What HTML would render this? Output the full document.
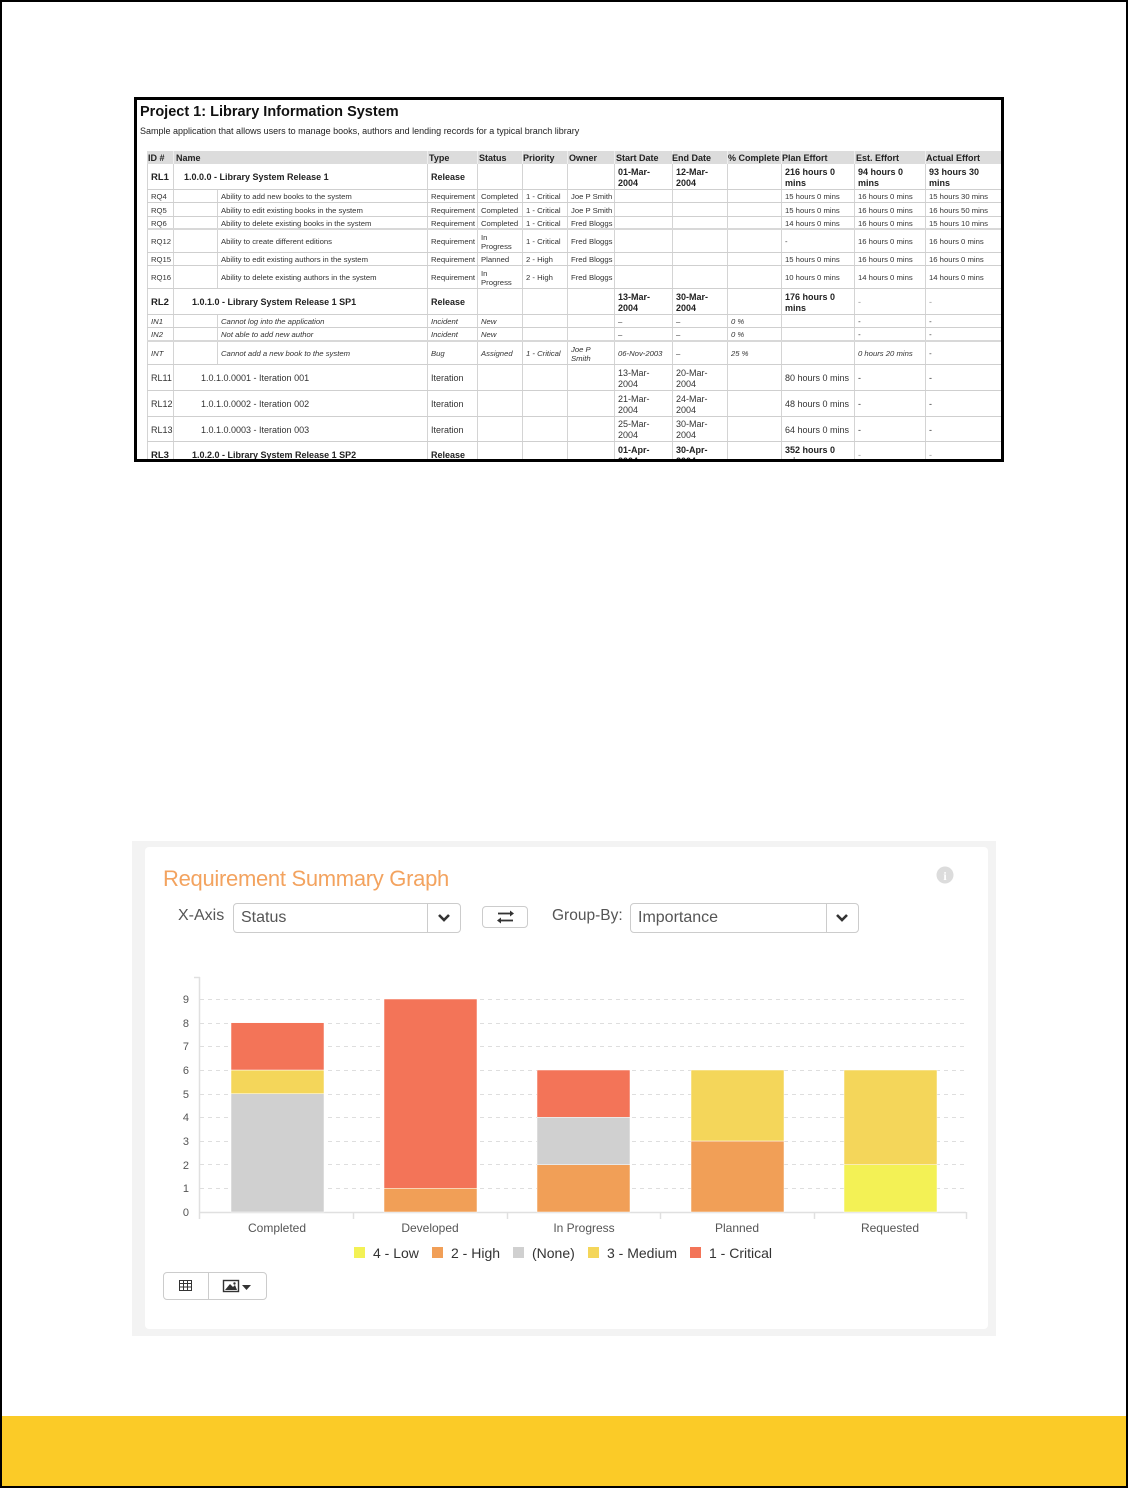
<!DOCTYPE html>
<html><head><meta charset="utf-8">
<style>
*{margin:0;padding:0}
body{width:1128px;height:1488px;background:#fff;font-family:"Liberation Sans",Arial,sans-serif;}
#pg{position:relative;width:1128px;height:1488px;overflow:hidden;background:#fff;}
.abs{position:absolute}
#frame{position:absolute;left:0;top:0;width:1128px;height:1488px;border:2px solid #000;box-sizing:border-box;z-index:50;pointer-events:none}
#yel{position:absolute;left:0;top:1416px;width:1128px;height:72px;background:#fbcb27}
#boxb{position:absolute;left:134px;top:97px;width:870px;height:365px;border:3px solid #000;box-sizing:border-box;z-index:10}
#clip{position:absolute;left:137px;top:100px;width:864px;height:359px;overflow:hidden;background:#fff}
#inner{position:absolute;left:-137px;top:-100px;width:1128px;height:600px}
.r{position:absolute;left:147px;width:860px;border-bottom:1px solid #cfcfcf;box-sizing:border-box;color:#333}
.c{position:absolute;top:0;bottom:0;display:flex;align-items:center;padding-left:3px;padding-top:2px;border-left:1px solid #d4d4d4;box-sizing:border-box;line-height:1.2;white-space:nowrap}
.i{left:0;width:26px}.n0{left:26px;width:44px}.n{left:70px;width:210px}.nf{left:26px;width:254px}
.t{left:280px;width:50px}.s{left:330px;width:45px}.p{left:375px;width:45px}.o{left:420px;width:47px}
.sd{left:467px;width:58px}.ed{left:525px;width:55px}.pc{left:580px;width:54px}.pe{left:634px;width:73px}
.ee{left:707px;width:71px}.ae{left:778px;width:82px}
.b{font-size:9px;font-weight:bold;color:#222}
.sm{font-size:7.7px}
.it{font-size:7.7px;font-style:italic}
.m{font-size:9px;color:#333}
.g{color:#999;font-weight:normal}
.hd{position:absolute;top:151px;height:13px;left:147px;width:860px;background:#dcdcdc}
.hd span{position:absolute;top:1px;line-height:13px;font-size:9px;font-weight:bold;color:#222;white-space:nowrap}
.hd i{position:absolute;top:0;width:1px;height:13px;background:#eee}
</style></head><body><div id="pg">

<div id="clip"><div id="inner">
<div class="abs" style="left:140px;top:104px;font-size:14.5px;font-weight:bold;color:#111;white-space:nowrap">Project 1: Library Information System</div>
<div class="abs" style="left:140px;top:126px;font-size:9px;color:#222;white-space:nowrap">Sample application that allows users to manage books, authors and lending records for a typical branch library</div>

<div class="hd">
<i style="left:26px"></i><i style="left:280px"></i><i style="left:330px"></i><i style="left:375px"></i><i style="left:420px"></i><i style="left:467px"></i><i style="left:525px"></i><i style="left:580px"></i><i style="left:634px"></i><i style="left:707px"></i><i style="left:778px"></i>
<span style="left:1px">ID #</span><span style="left:29px">Name</span><span style="left:282px">Type</span><span style="left:332px">Status</span><span style="left:376px">Priority</span><span style="left:422px">Owner</span><span style="left:469px">Start Date</span><span style="left:525px">End Date</span><span style="left:581px">% Complete</span><span style="left:635px">Plan Effort</span><span style="left:709px">Est. Effort</span><span style="left:779px">Actual Effort</span>
</div>

<!-- RL1 -->
<div class="r b" style="top:164px;height:26px">
<div class="c i" style="font-size:9.5px">RL1</div><div class="c nf" style="padding-left:10px">1.0.0.0 - Library System Release 1</div>
<div class="c t">Release</div><div class="c s"></div><div class="c p"></div><div class="c o"></div>
<div class="c sd">01-Mar-<br>2004</div><div class="c ed">12-Mar-<br>2004</div><div class="c pc"></div>
<div class="c pe">216 hours 0<br>mins</div><div class="c ee">94 hours 0<br>mins</div><div class="c ae">93 hours 30<br>mins</div>
</div>
<!-- RQ4 -->
<div class="r sm" style="top:190px;height:13px">
<div class="c i">RQ4</div><div class="c n0"></div><div class="c n">Ability to add new books to the system</div>
<div class="c t">Requirement</div><div class="c s">Completed</div><div class="c p">1 - Critical</div><div class="c o">Joe P Smith</div>
<div class="c sd"></div><div class="c ed"></div><div class="c pc"></div>
<div class="c pe">15 hours 0 mins</div><div class="c ee">16 hours 0 mins</div><div class="c ae">15 hours 30 mins</div>
</div>
<div class="r sm" style="top:203px;height:14px">
<div class="c i">RQ5</div><div class="c n0"></div><div class="c n">Ability to edit existing books in the system</div>
<div class="c t">Requirement</div><div class="c s">Completed</div><div class="c p">1 - Critical</div><div class="c o">Joe P Smith</div>
<div class="c sd"></div><div class="c ed"></div><div class="c pc"></div>
<div class="c pe">15 hours 0 mins</div><div class="c ee">16 hours 0 mins</div><div class="c ae">16 hours 50 mins</div>
</div>
<div class="r sm" style="top:217px;height:13px;border-bottom:2px solid #d8d8d8">
<div class="c i">RQ6</div><div class="c n0"></div><div class="c n">Ability to delete existing books in the system</div>
<div class="c t">Requirement</div><div class="c s">Completed</div><div class="c p">1 - Critical</div><div class="c o">Fred Bloggs</div>
<div class="c sd"></div><div class="c ed"></div><div class="c pc"></div>
<div class="c pe">14 hours 0 mins</div><div class="c ee">16 hours 0 mins</div><div class="c ae">15 hours 10 mins</div>
</div>
<div class="r sm" style="top:230px;height:23px">
<div class="c i">RQ12</div><div class="c n0"></div><div class="c n">Ability to create different editions</div>
<div class="c t">Requirement</div><div class="c s">In<br>Progress</div><div class="c p">1 - Critical</div><div class="c o">Fred Bloggs</div>
<div class="c sd"></div><div class="c ed"></div><div class="c pc"></div>
<div class="c pe">-</div><div class="c ee">16 hours 0 mins</div><div class="c ae">16 hours 0 mins</div>
</div>
<div class="r sm" style="top:253px;height:13px">
<div class="c i">RQ15</div><div class="c n0"></div><div class="c n">Ability to edit existing authors in the system</div>
<div class="c t">Requirement</div><div class="c s">Planned</div><div class="c p">2 - High</div><div class="c o">Fred Bloggs</div>
<div class="c sd"></div><div class="c ed"></div><div class="c pc"></div>
<div class="c pe">15 hours 0 mins</div><div class="c ee">16 hours 0 mins</div><div class="c ae">16 hours 0 mins</div>
</div>
<div class="r sm" style="top:266px;height:23px">
<div class="c i">RQ16</div><div class="c n0"></div><div class="c n">Ability to delete existing authors in the system</div>
<div class="c t">Requirement</div><div class="c s">In<br>Progress</div><div class="c p">2 - High</div><div class="c o">Fred Bloggs</div>
<div class="c sd"></div><div class="c ed"></div><div class="c pc"></div>
<div class="c pe">10 hours 0 mins</div><div class="c ee">14 hours 0 mins</div><div class="c ae">14 hours 0 mins</div>
</div>
<!-- RL2 -->
<div class="r b" style="top:289px;height:26px">
<div class="c i" style="font-size:9.5px">RL2</div><div class="c nf" style="padding-left:18px">1.0.1.0 - Library System Release 1 SP1</div>
<div class="c t">Release</div><div class="c s"></div><div class="c p"></div><div class="c o"></div>
<div class="c sd">13-Mar-<br>2004</div><div class="c ed">30-Mar-<br>2004</div><div class="c pc"></div>
<div class="c pe">176 hours 0<br>mins</div><div class="c ee g">-</div><div class="c ae g">-</div>
</div>
<div class="r it" style="top:315px;height:13px">
<div class="c i">IN1</div><div class="c n0"></div><div class="c n">Cannot log into the application</div>
<div class="c t">Incident</div><div class="c s">New</div><div class="c p"></div><div class="c o"></div>
<div class="c sd">–</div><div class="c ed">–</div><div class="c pc">0 %</div>
<div class="c pe"></div><div class="c ee">-</div><div class="c ae">-</div>
</div>
<div class="r it" style="top:328px;height:14px;border-bottom:2px solid #d8d8d8">
<div class="c i">IN2</div><div class="c n0"></div><div class="c n">Not able to add new author</div>
<div class="c t">Incident</div><div class="c s">New</div><div class="c p"></div><div class="c o"></div>
<div class="c sd">–</div><div class="c ed">–</div><div class="c pc">0 %</div>
<div class="c pe"></div><div class="c ee">-</div><div class="c ae">-</div>
</div>
<div class="r it" style="top:342px;height:23px">
<div class="c i">INT</div><div class="c n0"></div><div class="c n">Cannot add a new book to the system</div>
<div class="c t">Bug</div><div class="c s">Assigned</div><div class="c p">1 - Critical</div><div class="c o">Joe P<br>Smith</div>
<div class="c sd">06-Nov-2003</div><div class="c ed">–</div><div class="c pc">25 %</div>
<div class="c pe"></div><div class="c ee">0 hours 20 mins</div><div class="c ae">-</div>
</div>
<!-- iterations -->
<div class="r m" style="top:365px;height:26px">
<div class="c i">RL11</div><div class="c nf" style="padding-left:27px">1.0.1.0.0001 - Iteration 001</div>
<div class="c t">Iteration</div><div class="c s"></div><div class="c p"></div><div class="c o"></div>
<div class="c sd">13-Mar-<br>2004</div><div class="c ed">20-Mar-<br>2004</div><div class="c pc"></div>
<div class="c pe">80 hours 0 mins</div><div class="c ee">-</div><div class="c ae">-</div>
</div>
<div class="r m" style="top:391px;height:26px">
<div class="c i">RL12</div><div class="c nf" style="padding-left:27px">1.0.1.0.0002 - Iteration 002</div>
<div class="c t">Iteration</div><div class="c s"></div><div class="c p"></div><div class="c o"></div>
<div class="c sd">21-Mar-<br>2004</div><div class="c ed">24-Mar-<br>2004</div><div class="c pc"></div>
<div class="c pe">48 hours 0 mins</div><div class="c ee">-</div><div class="c ae">-</div>
</div>
<div class="r m" style="top:417px;height:25px">
<div class="c i">RL13</div><div class="c nf" style="padding-left:27px">1.0.1.0.0003 - Iteration 003</div>
<div class="c t">Iteration</div><div class="c s"></div><div class="c p"></div><div class="c o"></div>
<div class="c sd">25-Mar-<br>2004</div><div class="c ed">30-Mar-<br>2004</div><div class="c pc"></div>
<div class="c pe">64 hours 0 mins</div><div class="c ee">-</div><div class="c ae">-</div>
</div>
<div class="r b" style="top:442px;height:26px">
<div class="c i" style="font-size:9.5px">RL3</div><div class="c nf" style="padding-left:18px">1.0.2.0 - Library System Release 1 SP2</div>
<div class="c t">Release</div><div class="c s"></div><div class="c p"></div><div class="c o"></div>
<div class="c sd">01-Apr-<br>2004</div><div class="c ed">30-Apr-<br>2004</div><div class="c pc"></div>
<div class="c pe">352 hours 0<br>mins</div><div class="c ee g">-</div><div class="c ae g">-</div>
</div>
</div></div>
<div id="boxb"></div>

<!-- chart panel -->
<div class="abs" style="left:132px;top:841px;width:864px;height:495px;background:#f3f3f3"></div>
<div class="abs" style="left:145px;top:847px;width:843px;height:482px;background:#fff;border-radius:4px"></div>
<div class="abs" style="left:163px;top:864px;font-size:22px;letter-spacing:-0.3px;color:#f3a35f;white-space:nowrap;line-height:30px">Requirement Summary Graph</div>
<div class="abs" style="left:178px;top:906px;font-size:16px;color:#555;line-height:20px">X-Axis</div>
<div class="abs" style="left:233px;top:903px;width:228px;height:30px;border:1px solid #ccc;border-radius:4px;box-sizing:border-box"></div>
<div class="abs" style="left:427px;top:904px;width:1px;height:28px;background:#ccc"></div>
<div class="abs" style="left:241px;top:908px;font-size:16px;color:#555;line-height:20px">Status</div>
<div class="abs" style="left:482px;top:906px;width:46px;height:22px;border:1px solid #ccc;border-radius:4px;box-sizing:border-box"></div>
<div class="abs" style="left:552px;top:906px;font-size:15.5px;color:#555;line-height:20px">Group-By:</div>
<div class="abs" style="left:630px;top:903px;width:229px;height:30px;border:1px solid #ccc;border-radius:4px;box-sizing:border-box"></div>
<div class="abs" style="left:826px;top:904px;width:1px;height:28px;background:#ccc"></div>
<div class="abs" style="left:638px;top:908px;font-size:16px;color:#555;line-height:20px">Importance</div>
<div class="abs" style="left:163px;top:1272px;width:104px;height:28px;border:1px solid #ccc;border-radius:4px;box-sizing:border-box"></div>
<div class="abs" style="left:208px;top:1273px;width:1px;height:26px;background:#ccc"></div>

<svg class="abs" style="left:0;top:0" width="1128" height="1488" xmlns="http://www.w3.org/2000/svg">
<polyline points="439,915 444,920 449,915" fill="none" stroke="#333" stroke-width="2.6"/>
<polyline points="837,915 842,920 847,915" fill="none" stroke="#333" stroke-width="2.6"/>
<g stroke="#333" stroke-width="1.8" fill="#333">
<line x1="498" y1="913.5" x2="510" y2="913.5"/><polygon points="510,910.5 514,913.5 510,916.5" stroke="none"/>
<line x1="501" y1="920.5" x2="513" y2="920.5"/><polygon points="501,917.5 497,920.5 501,923.5" stroke="none"/>
</g>
<circle cx="945" cy="875" r="8.5" fill="#dcdcdc"/>
<text x="945" y="880" font-family="Liberation Serif,serif" font-weight="bold" font-size="12" fill="#fff" text-anchor="middle">i</text>

<g stroke="#dedede" stroke-width="1" stroke-dasharray="4,4">
<line x1="200" y1="1188.5" x2="966" y2="1188.5"/>
<line x1="200" y1="1164.5" x2="966" y2="1164.5"/>
<line x1="200" y1="1141.5" x2="966" y2="1141.5"/>
<line x1="200" y1="1117.5" x2="966" y2="1117.5"/>
<line x1="200" y1="1094.5" x2="966" y2="1094.5"/>
<line x1="200" y1="1070.5" x2="966" y2="1070.5"/>
<line x1="200" y1="1046.5" x2="966" y2="1046.5"/>
<line x1="200" y1="1023.5" x2="966" y2="1023.5"/>
<line x1="200" y1="999.5" x2="966" y2="999.5"/>
</g>
<g stroke="#e0e0e0" stroke-width="1.5">
<line x1="199.5" y1="977" x2="199.5" y2="1219"/>
<line x1="194" y1="977.5" x2="200" y2="977.5"/>
<line x1="199" y1="1212.5" x2="966" y2="1212.5"/>
<line x1="353.5" y1="1212" x2="353.5" y2="1219"/>
<line x1="507.5" y1="1212" x2="507.5" y2="1219"/>
<line x1="660.5" y1="1212" x2="660.5" y2="1219"/>
<line x1="814.5" y1="1212" x2="814.5" y2="1219"/>
<line x1="966.5" y1="1212" x2="966.5" y2="1219"/>
</g>
<g font-family="Liberation Sans,Arial,sans-serif" font-size="11" fill="#555" text-anchor="end">
<text x="189" y="1216">0</text><text x="189" y="1192">1</text><text x="189" y="1169">2</text>
<text x="189" y="1145">3</text><text x="189" y="1121">4</text><text x="189" y="1098">5</text>
<text x="189" y="1074">6</text><text x="189" y="1050">7</text><text x="189" y="1027">8</text>
<text x="189" y="1003">9</text>
</g>
<g stroke="#fff" stroke-width="0.5">
<rect x="231" y="1093.7" width="93" height="118.3" fill="#d0d0d0"/>
<rect x="231" y="1070" width="93" height="23.7" fill="#f4d65a"/>
<rect x="231" y="1022.7" width="93" height="47.3" fill="#f37458"/>
<rect x="384" y="1188.3" width="93" height="23.7" fill="#f19f57"/>
<rect x="384" y="999" width="93" height="189.3" fill="#f37458"/>
<rect x="537" y="1164.7" width="93" height="47.3" fill="#f19f57"/>
<rect x="537" y="1117.3" width="93" height="47.4" fill="#d0d0d0"/>
<rect x="537" y="1070" width="93" height="47.3" fill="#f37458"/>
<rect x="691" y="1141" width="93" height="71" fill="#f19f57"/>
<rect x="691" y="1070" width="93" height="71" fill="#f4d65a"/>
<rect x="844" y="1164.7" width="93" height="47.3" fill="#f3f155"/>
<rect x="844" y="1070" width="93" height="94.7" fill="#f4d65a"/>
</g>
<g font-family="Liberation Sans,Arial,sans-serif" font-size="12" fill="#555" text-anchor="middle">
<text x="277" y="1232">Completed</text><text x="430" y="1232">Developed</text>
<text x="584" y="1232">In Progress</text><text x="737" y="1232">Planned</text>
<text x="890" y="1232">Requested</text>
</g>
<rect x="354" y="1247" width="11" height="11" fill="#f3f155"/>
<rect x="432" y="1247" width="11" height="11" fill="#f19f57"/>
<rect x="513" y="1247" width="11" height="11" fill="#d0d0d0"/>
<rect x="588" y="1247" width="11" height="11" fill="#f4d65a"/>
<rect x="690" y="1247" width="11" height="11" fill="#f37458"/>
<g font-family="Liberation Sans,Arial,sans-serif" font-size="14" fill="#333">
<text x="373" y="1258">4 - Low</text><text x="451" y="1258">2 - High</text>
<text x="532" y="1258">(None)</text><text x="607" y="1258">3 - Medium</text>
<text x="709" y="1258">1 - Critical</text>
</g>
<g stroke="#333" stroke-width="1" fill="none">
<rect x="179.5" y="1280.5" width="12" height="10"/>
<line x1="179.5" y1="1283.5" x2="191.5" y2="1283.5"/>
<line x1="179.5" y1="1287" x2="191.5" y2="1287"/>
<line x1="183.5" y1="1280.5" x2="183.5" y2="1290.5"/>
<line x1="187.5" y1="1280.5" x2="187.5" y2="1290.5"/>
</g>
<rect x="223.5" y="1280.5" width="15" height="11" fill="none" stroke="#333" stroke-width="1.4"/>
<polygon points="225,1290 230,1284 233,1287 235,1285 237,1290" fill="#333"/>
<circle cx="234.5" cy="1283.5" r="1.2" fill="#333"/>
<polygon points="242,1285 251,1285 246.5,1290" fill="#333"/>
</svg>

<div id="yel"></div>
<div id="frame"></div>
</div></body></html>
